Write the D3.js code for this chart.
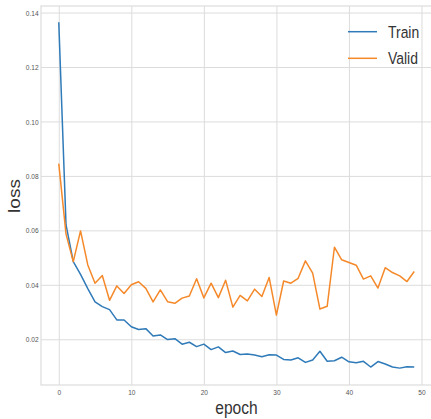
<!DOCTYPE html>
<html>
<head>
<meta charset="utf-8">
<script src="https://cdn.jsdelivr.net/npm/d3@7"></script>
<style>
  body { margin: 0; background: #fff; }
  svg { display: block; font-family: "Liberation Sans", Arial, sans-serif; }
</style>
</head>
<body>
<svg id="chart" width="431" height="419"></svg>
<script>
// data
var seriesNames = ['Train', 'Valid'];
var seriesColors = ['#2f7ab8', '#f5892a'];
var trainLoss = [0.1364, 0.0620, 0.0485, 0.0438, 0.0386, 0.0337, 0.0320, 0.0309, 0.0271, 0.0271,
	0.0246, 0.0236, 0.0239, 0.0212, 0.0216, 0.0199, 0.0202, 0.0182, 0.0189, 0.0173,
	0.0182, 0.0162, 0.0172, 0.0151, 0.0157, 0.0144, 0.0146, 0.0142, 0.0136, 0.0143,
	0.0142, 0.0126, 0.0124, 0.0132, 0.0115, 0.0124, 0.0156, 0.0119, 0.0121, 0.0134,
	0.0117, 0.0114, 0.0119, 0.0098, 0.0118, 0.0109, 0.0098, 0.0094, 0.0099, 0.0098];
var validLoss = [0.0845, 0.0586, 0.0485, 0.0598, 0.0473, 0.0406, 0.0434, 0.0343, 0.0396, 0.0368,
	0.0400, 0.0411, 0.0387, 0.0337, 0.0381, 0.0338, 0.0332, 0.0351, 0.0359, 0.0422,
	0.0352, 0.0406, 0.0353, 0.0417, 0.0318, 0.0361, 0.0341, 0.0384, 0.0357, 0.0427,
	0.0289, 0.0414, 0.0406, 0.0424, 0.0488, 0.0443, 0.0311, 0.0321, 0.0538, 0.0492,
	0.0482, 0.0472, 0.0421, 0.0433, 0.0388, 0.0463, 0.0445, 0.0433, 0.0412, 0.0449];
var xTicks = [0, 10, 20, 30, 40, 50];
var yTicks = [0.02, 0.04, 0.06, 0.08, 0.10, 0.12, 0.14];

// layout
var plotLeft = 41, plotRight = 432, plotTop = 6, plotBottom = 385;
var squeeze = 0.82; // text in the picture is narrowed horizontally
var gridColor = '#dcdcdc';

var svg = d3.select('#chart');
var epochs = d3.range(trainLoss.length);

var x = d3.scaleLinear().domain([-2.45, 51.45]).range([plotLeft, plotRight]);
var y = d3.scaleLinear().domain([0.0032, 0.1424]).range([plotBottom, plotTop]);

// y grid + labels
var yAxis = svg.append('g')
	.attr('transform', 'translate(' + plotLeft + ',0)')
	.call(d3.axisLeft(y).tickValues(yTicks).tickFormat(d3.format('.2f'))
		.tickSizeInner(-(plotRight - plotLeft)).tickSizeOuter(0).tickPadding(3));
yAxis.select('.domain').remove();
yAxis.selectAll('line').attr('stroke', gridColor).attr('stroke-width', 1);
yAxis.selectAll('text')
	.attr('font-size', 8).attr('fill', '#555')
	.attr('transform', 'scale(' + squeeze + ',1)');

// x grid + labels
var xAxis = svg.append('g')
	.attr('transform', 'translate(0,' + plotBottom + ')')
	.call(d3.axisBottom(x).tickValues(xTicks)
		.tickSizeInner(-(plotBottom - plotTop)).tickSizeOuter(0).tickPadding(4));
xAxis.select('.domain').remove();
xAxis.selectAll('line').attr('stroke', gridColor).attr('stroke-width', 1);
xAxis.selectAll('text')
	.attr('font-size', 8).attr('fill', '#555')
	.attr('transform', 'scale(' + squeeze + ',1)');

// frame
svg.append('rect')
	.attr('x', plotLeft).attr('y', plotTop)
	.attr('width', plotRight - plotLeft).attr('height', plotBottom - plotTop)
	.attr('fill', 'none').attr('stroke', gridColor).attr('stroke-width', 1.2);

// lines
var line = d3.line()
	.x(function(d, i) { return x(epochs[i]); })
	.y(function(d) { return y(d); });

[trainLoss, validLoss].forEach(function(values, k) {
	svg.append('path')
		.datum(values)
		.attr('fill', 'none')
		.attr('stroke', seriesColors[k])
		.attr('stroke-width', 1.5)
		.attr('stroke-linejoin', 'round')
		.attr('d', line);
});

// axis titles
svg.append('text')
	.attr('transform', 'translate(236.5,414) scale(' + squeeze + ',1)')
	.attr('text-anchor', 'middle')
	.attr('font-size', 19)
	.attr('fill', '#333')
	.text('epoch');

svg.append('text')
	.attr('transform', 'translate(20,196) scale(' + squeeze + ',1) rotate(-90)')
	.attr('text-anchor', 'middle')
	.attr('font-size', 19)
	.attr('fill', '#333')
	.text('loss');

// legend
var legend = svg.append('g');
seriesNames.forEach(function(name, k) {
	var ly = 31.7 + k * 26.6;
	legend.append('line')
		.attr('x1', 348).attr('x2', 377)
		.attr('y1', ly).attr('y2', ly)
		.attr('stroke', seriesColors[k]).attr('stroke-width', 1.5);
	legend.append('text')
		.attr('transform', 'translate(388,' + (ly + 5.8) + ') scale(' + squeeze + ',1)')
		.attr('font-size', 17)
		.attr('fill', '#333')
		.text(name);
});
</script>
</body>
</html>
